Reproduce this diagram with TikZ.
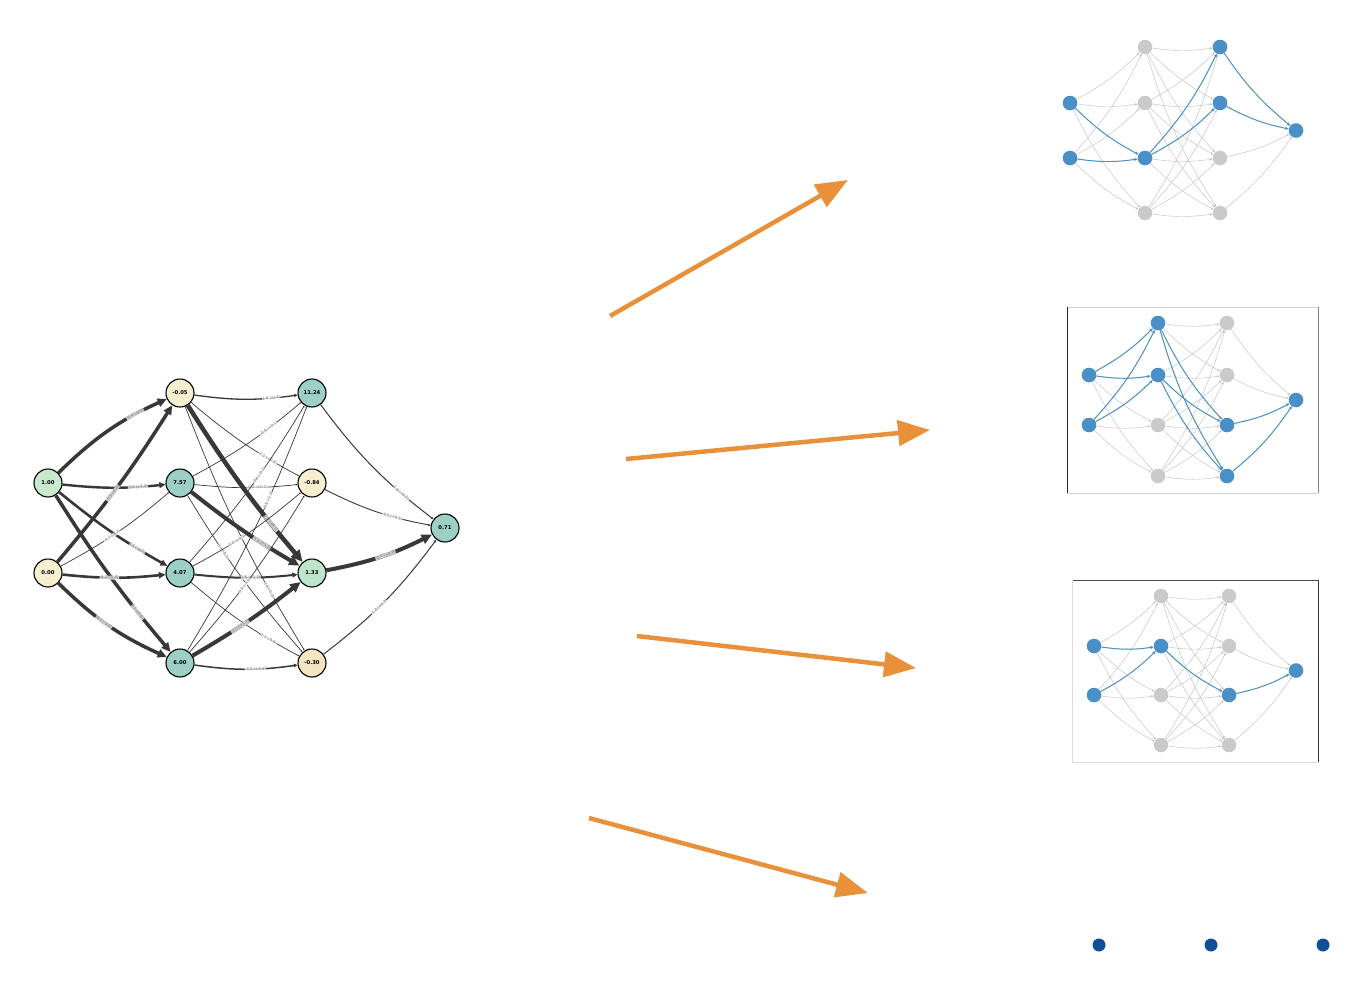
\documentclass[tikz,border=0pt]{standalone}
\usepackage{fontspec}
\newfontfamily\nf{DejaVu Sans}
\usetikzlibrary{arrows.meta}
\definecolor{creamC}{HTML}{F7EECF}
\definecolor{creamD}{HTML}{F4E5C2}
\definecolor{tealC}{HTML}{9CCFC6}
\definecolor{greenC}{HTML}{C9E9CD}
\definecolor{greenD}{HTML}{BDE5CB}
\definecolor{edgeC}{HTML}{383838}
\definecolor{labC}{HTML}{6A6A6A}
\definecolor{orangeC}{HTML}{E8913A}
\definecolor{blueC}{HTML}{4A90C8}
\definecolor{grayN}{HTML}{CACACA}
\definecolor{grayE}{HTML}{C2C2C2}
\definecolor{navyC}{HTML}{0F5192}
\tikzset{
  x=1bp, y=-1bp,
  nn/.style={circle, draw=black, line width=1.1bp, minimum size=28bp, inner sep=0pt,
    font=\nf\bfseries\fontsize{5.3}{6}\selectfont},
  ed/.style={draw=edgeC, -{Triangle[length=0pt 2.6, width=0pt 2.4]}},
  lab/.style={font=\nf\fontsize{3.8}{4}\selectfont, text=labC, sloped, inner sep=0.3pt,
    fill=white, fill opacity=0.75, text opacity=1},
  gn/.style={circle, fill=grayN, minimum size=14.5bp, inner sep=0pt},
  bn/.style={circle, fill=blueC, minimum size=14.5bp, inner sep=0pt},
  ge/.style={draw=grayE, line width=0.45bp, -{Stealth[length=3bp, width=2.4bp]}},
  be/.style={draw=blueC, line width=0.95bp, -{Stealth[length=3.6bp, width=3bp]}},
  oar/.style={draw=orangeC, line width=4.5bp, -{Triangle[length=32bp, width=25bp]}},
  dot/.style={circle, fill=navyC, minimum size=13bp, inner sep=0pt},
}
\newcommand\smallnet[9]{%
  \foreach \r/\yy in {1/#7,2/#8} \node[gn] (#1i\r) at (#2,\yy) {};
  \foreach \r/\yy in {1/#6,2/#7,3/#8,4/#9} {\node[gn] (#1a\r) at (#3,\yy) {}; \node[gn] (#1b\r) at (#4,\yy) {};}
  \node[gn] (#1o) at (#5,{(#7+#8)/2}) {};
  \foreach \i in {1,2} \foreach \j in {1,...,4} \draw[ge] (#1i\i) to[bend right=8] (#1a\j);
  \foreach \i in {1,...,4} \foreach \j in {1,...,4} \draw[ge] (#1a\i) to[bend right=8] (#1b\j);
  \foreach \i in {1,...,4} \draw[ge] (#1b\i) to[bend right=8] (#1o);
}
\begin{document}
\begin{tikzpicture}
\useasboundingbox (0,0) rectangle (1356,996);
\fill[white] (0,0) rectangle (1356,996);

% ---------- left network ----------
\node[nn, fill=greenC] (I1) at (48,483) {1.00};
\node[nn, fill=creamC] (I2) at (48,573) {0.00};
\node[nn, fill=creamC] (A1) at (180,393) {-0.05};
\node[nn, fill=tealC] (A2) at (180,483) {7.57};
\node[nn, fill=tealC] (A3) at (180,573) {4.07};
\node[nn, fill=tealC] (A4) at (180,663) {6.00};
\node[nn, fill=tealC] (B1) at (312,393) {11.24};
\node[nn, fill=creamC] (B2) at (312,483) {-0.84};
\node[nn, fill=greenD] (B3) at (312,573) {1.33};
\node[nn, fill=creamD] (B4) at (312,663) {-0.30};
\node[nn, fill=tealC] (O) at (445,528) {0.71};

\draw[ed, line width=3.5bp] (I1) to[bend left=10] node[lab, pos=0.75] {-3.4 (-0.0)} (A1);
\draw[ed, line width=2.4bp] (I1) to[bend right=6] node[lab, pos=0.75] {3.4 (+1.2)} (A2);
\draw[ed, line width=2.6bp] (I1) to[bend right=5] node[lab, pos=0.75] {4.1 (-0.0)} (A3);
\draw[ed, line width=3.5bp] (I1) to[bend right=4] node[lab, pos=0.75] {6.1 (-0.0)} (A4);
\draw[ed, line width=3.5bp] (I2) to[bend right=4] node[lab, pos=0.45] {-5.5 (-0.0)} (A1);
\draw[ed, line width=0.7bp] (I2) to[bend right=6] node[lab, pos=0.45] {-0.7 (-4.2)} (A2);
\draw[ed, line width=2.6bp] (I2) to[bend right=6] node[lab, pos=0.45] {-0.1 (-0.0)} (A3);
\draw[ed, line width=3.5bp] (I2) to[bend right=10] node[lab, pos=0.45] {-6.1 (-0.0)} (A4);

\draw[ed, line width=1.3bp] (A1) to[bend right=8] node[lab, pos=0.76] {1.5 (-0.5)} (B1);
\draw[ed, line width=0.7bp] (A1) to[bend right=6] node[lab, pos=0.74] {-2.1 (+0.5)} (B2);
\draw[ed, line width=4.5bp] (A1) to[bend right=4] node[lab, pos=0.76] {2.5 (+0.7)} (B3);
\draw[ed, line width=0.7bp] (A1) to[bend right=5] node[lab, pos=0.76] {1.6 (-0.0)} (B4);
\draw[ed, line width=0.7bp] (A2) to[bend right=6] node[lab, pos=0.7] {-0.9 (+0.1)} (B1);
\draw[ed, line width=0.7bp] (A2) to[bend right=6] node[lab, pos=0.62] {-0.4 (+0.1)} (B2);
\draw[ed, line width=4.0bp] (A2) to[bend right=4] node[lab, pos=0.68] {-1.1 (+1.2)} (B3);
\draw[ed, line width=0.7bp] (A2) to[bend right=5] node[lab, pos=0.33] {0.3 (-0.1)} (B4);
\draw[ed, line width=0.7bp] (A3) to[bend right=5] node[lab, pos=0.58] {0.8 (-0.1)} (B1);
\draw[ed, line width=0.7bp] (A3) to[bend right=6] node[lab, pos=0.38] {0.6 (+0.3)} (B2);
\draw[ed, line width=2.0bp] (A3) to[bend right=6] node[lab, pos=0.55] {1.6 (+1.5)} (B3);
\draw[ed, line width=0.7bp] (A3) to[bend right=6] node[lab, pos=0.75] {1.1 (-0.6)} (B4);
\draw[ed, line width=0.7bp] (A4) to[bend right=5] node[lab, pos=0.64] {0.5 (-1.2)} (B1);
\draw[ed, line width=0.7bp] (A4) to[bend right=5] node[lab, pos=0.44] {0.5 (-1.1)} (B2);
\draw[ed, line width=4.0bp] (A4) to[bend right=4] node[lab, pos=0.42] {-2.1 (+1.7)} (B3);
\draw[ed, line width=1.5bp] (A4) to[bend right=8] node[lab, pos=0.6] {-2.2 (+2.4)} (B4);

\draw[ed, line width=1.0bp] (B1) to[bend right=8] node[lab, pos=0.76] {1.8 (+0.3)} (O);
\draw[ed, line width=0.9bp] (B2) to[bend right=8] node[lab, pos=0.66] {-0.5 (+0.5)} (O);
\draw[ed, line width=4.0bp] (B3) to[bend right=8] node[lab, pos=0.55] {-2.0 (+0.5)} (O);
\draw[ed, line width=1.0bp] (B4) to[bend right=8] node[lab, pos=0.45] {7.4 (+0.3)} (O);

% ---------- orange arrows ----------
\coordinate (s1) at (610,316); \coordinate (e1) at (848,180);
\coordinate (s2) at (626,459); \coordinate (e2) at (930,430);
\coordinate (s3) at (637,636); \coordinate (e3) at (916,668);
\coordinate (s4) at (589,818); \coordinate (e4) at (868,893);
\draw[oar] (s1) -- (e1);
\draw[oar] (s2) -- (e2);
\draw[oar] (s3) -- (e3);
\draw[oar] (s4) -- (e4);

% ---------- panel frames ----------
\draw[line width=0.8bp, draw=black!18] (1067,307) -- (1318,307);
\draw[line width=0.8bp, draw=black!18] (1067,493) -- (1318,493);
\draw[line width=0.9bp, draw=black!85] (1067,307) -- (1067,493);
\draw[line width=0.8bp, draw=black!50] (1318,307) -- (1318,493);
\draw[line width=0.8bp, draw=black!70] (1072,580) -- (1318,580);
\draw[line width=0.8bp, draw=black!15] (1072,762) -- (1318,762);
\draw[line width=0.8bp, draw=black!15] (1072,580) -- (1072,762);
\draw[line width=0.9bp, draw=black!80] (1318,580) -- (1318,762);

% ---------- small panels ----------
\smallnet{p}{1070}{1145}{1220}{1296}{47}{103}{158}{213}
\foreach \s/\t in {i1/a3,i2/a3,a3/b1,a3/b2,b1/o,b2/o} \draw[be] (p\s) to[bend right=8] (p\t);
\foreach \n in {i1,i2,a3,b1,b2,o} \node[bn] (p\n h) at (p\n) {};

\smallnet{q}{1089}{1158}{1227}{1296}{323}{375}{425}{476}
\foreach \s/\t in {i1/a1,i1/a2,i2/a1,i2/a2,a1/b3,a1/b4,a2/b3,a2/b4,b3/o,b4/o} \draw[be] (q\s) to[bend right=8] (q\t);
\foreach \n in {i1,i2,a1,a2,b3,b4,o} \node[bn] (q\n h) at (q\n) {};

\smallnet{r}{1094}{1161}{1229}{1296}{596}{646}{695}{745}
\foreach \s/\t in {i1/a2,i2/a2,a2/b3,b3/o} \draw[be] (r\s) to[bend right=8] (r\t);
\foreach \n in {i1,i2,a2,b3,o} \node[bn] (r\n h) at (r\n) {};

% ---------- dots ----------
\node[dot] (d1) at (1099,945) {};
\node[dot] (d2) at (1211,945) {};
\node[dot] (d3) at (1323,945) {};
\end{tikzpicture}
\end{document}
